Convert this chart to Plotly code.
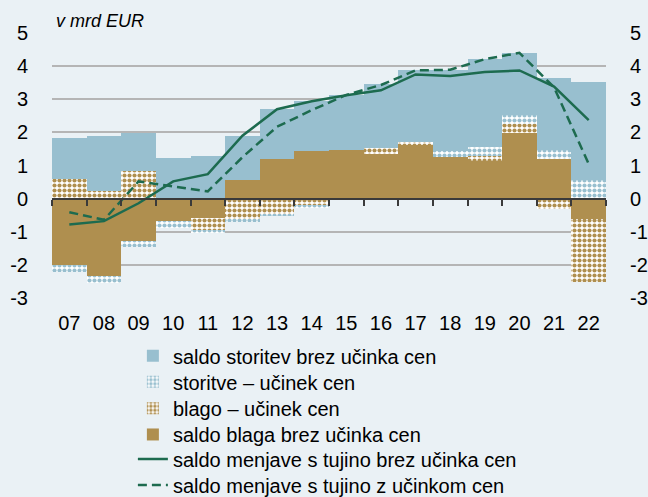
import plotly.graph_objects as go

# ---- data (v mrd EUR) ----
years = ['07', '08', '09', '10', '11', '12', '13', '14', '15', '16', '17', '18', '19', '20', '21', '22']
goods_balance = [-2.00, -2.33, -1.29, -0.69, -0.57, 0.57, 1.21, 1.43, 1.47, 1.36, 1.61, 1.25, 1.15, 1.98, 1.20, -0.62]
goods_price = [0.59, 0.24, 0.84, 0.00, -0.37, -0.61, -0.47, -0.22, 0.00, 0.17, 0.11, 0.00, 0.14, 0.28, -0.31, -1.89]
services_price = [-0.22, -0.23, -0.16, -0.20, -0.11, -0.10, -0.05, -0.06, 0.00, 0.00, 0.00, 0.18, 0.27, 0.25, 0.27, 0.55]
services_balance = [1.24, 1.66, 1.13, 1.22, 1.30, 1.33, 1.49, 1.53, 1.65, 1.93, 2.15, 2.46, 2.65, 1.89, 2.16, 2.98]
total_ex_price = [-0.78, -0.68, -0.14, 0.52, 0.74, 1.90, 2.70, 2.94, 3.12, 3.27, 3.75, 3.70, 3.82, 3.87, 3.38, 2.37]
total_with_price = [-0.41, -0.64, 0.52, 0.36, 0.22, 1.25, 2.17, 2.67, 3.13, 3.43, 3.87, 3.89, 4.21, 4.40, 3.36, 1.05]

y_ticks = [-3, -2, -1, 0, 1, 2, 3, 4, 5]
y_tick_labels = ['-3', '-2', '-1', '0', '1', '2', '3', '4', '5']

names = {
    'sb': 'saldo storitev brez učinka cen',
    'sp': 'storitve – učinek cen',
    'gp': 'blago – učinek cen',
    'gb': 'saldo blaga brez učinka cen',
    'l1': 'saldo menjave s tujino brez učinka cen',
    'l2': 'saldo menjave s tujino z učinkom cen',
}

BLUE = '#98BFCF'
BROWN = '#AF8F4F'
GREEN = '#1D6B4F'
BG = '#EAF1F5'
FONT = 'Liberation Sans, Arial, sans-serif'


def checker(color):
    return dict(shape='.', fillmode='replace', bgcolor='white', fgcolor=color, size=5, solidity=0.55)


fig = go.Figure()
fig.add_bar(x=years, y=goods_balance, name=names['gb'], legend='legend4',
            marker=dict(color=BROWN, line=dict(width=0)))
fig.add_bar(x=years, y=goods_price, name=names['gp'], legend='legend3',
            marker=dict(color=BROWN, line=dict(width=0), pattern=checker(BROWN)))
fig.add_bar(x=years, y=services_price, name=names['sp'], legend='legend2',
            marker=dict(color=BLUE, line=dict(width=0), pattern=checker(BLUE)))
fig.add_bar(x=years, y=services_balance, name=names['sb'], legend='legend',
            marker=dict(color=BLUE, line=dict(width=0)))
fig.add_scatter(x=years, y=total_ex_price, name=names['l1'], legend='legend5', mode='lines',
                line=dict(color=GREEN, width=2.5))
fig.add_scatter(x=years, y=total_with_price, name=names['l2'], legend='legend6', mode='lines',
                line=dict(color=GREEN, width=2.5, dash='9px,5px'))
# invisible helpers so the zero-line axis (x2) and the right-hand axis (y2) are drawn
fig.add_scatter(x=years, y=total_ex_price, xaxis='x2', yaxis='y', mode='lines', opacity=0,
                showlegend=False, hoverinfo='skip', line=dict(width=0))
fig.add_scatter(x=years, y=total_ex_price, xaxis='x', yaxis='y2', mode='lines', opacity=0,
                showlegend=False, hoverinfo='skip', line=dict(width=0))

legend_rows = [-0.218, -0.316, -0.416, -0.515, -0.6075, -0.7057]
legend_common = dict(x=0.146, xanchor='left', yanchor='middle', bgcolor='rgba(0,0,0,0)',
                     font=dict(size=20, family=FONT, color='black'), itemwidth=30)

axis_y = dict(range=[-3, 5], tickvals=y_ticks, ticktext=y_tick_labels, zeroline=False,
              showline=False, ticks='outside', ticklen=19, tickcolor='rgba(0,0,0,0)',
              tickfont=dict(size=20))

fig.update_layout(
    width=648, height=497,
    margin=dict(l=52, r=42, t=33, b=199, autoexpand=False),
    paper_bgcolor=BG, plot_bgcolor=BG,
    font=dict(family=FONT, size=20, color='black'),
    barmode='relative', bargap=0,
    showlegend=True,
    legend=dict(y=legend_rows[0], **legend_common),
    legend2=dict(y=legend_rows[1], **legend_common),
    legend3=dict(y=legend_rows[2], **legend_common),
    legend4=dict(y=legend_rows[3], **legend_common),
    legend5=dict(y=legend_rows[4], **legend_common),
    legend6=dict(y=legend_rows[5], **legend_common),
    xaxis=dict(type='category', categoryorder='array', categoryarray=years, range=[-0.5, 15.5],
               showgrid=False, showline=False, zeroline=False,
               ticks='outside', ticklen=7, tickcolor='rgba(0,0,0,0)',
               tickfont=dict(size=20)),
    xaxis2=dict(type='category', categoryorder='array', categoryarray=years, range=[-0.5, 15.5],
                overlaying='x', anchor='free', position=0.375, side='bottom',
                showgrid=False, zeroline=False, showticklabels=False,
                showline=True, linecolor='#3a3a3a', linewidth=2,
                ticks='outside', ticklen=6, tickwidth=1.5, tickcolor='#3a3a3a', tickson='boundaries'),
    yaxis=dict(showgrid=True, gridcolor='#B5B5B5', gridwidth=1.5, **axis_y),
    yaxis2=dict(overlaying='y', side='right', anchor='x', showgrid=False, **axis_y),
    annotations=[dict(text='<i>v mrd EUR</i>', xref='paper', yref='paper', x=0, y=1,
                      xanchor='left', yanchor='bottom', xshift=2, yshift=0, showarrow=False,
                      font=dict(size=18, family=FONT))],
)

fig.write_html('out.html', config={'displayModeBar': False},
               post_script="document.body.style.margin='0';document.body.style.overflow='hidden';")
